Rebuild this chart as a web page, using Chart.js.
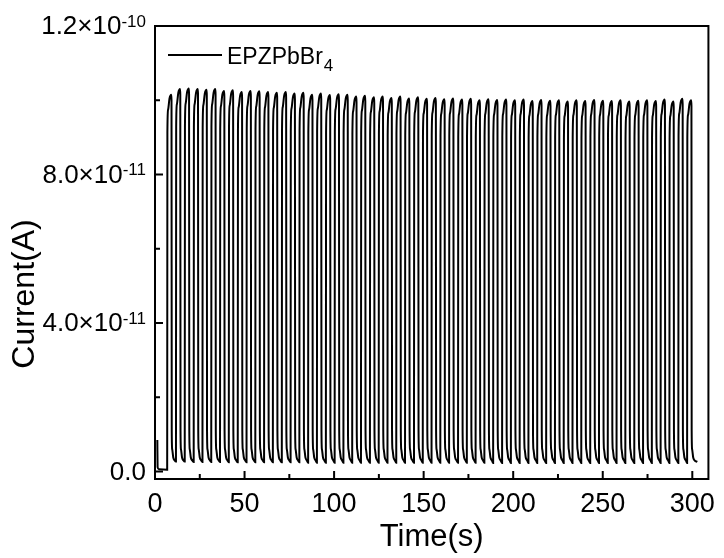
<!DOCTYPE html>
<html>
<head>
<meta charset="utf-8">
<script src="https://cdn.jsdelivr.net/npm/chart.js@4.4.1/dist/chart.umd.min.js"></script>
<style>
  body { margin: 0; background: #fff; }
  canvas { display: block; }
</style>
</head>
<body>
<canvas id="myChart" width="724" height="558"></canvas>
<script>
/* 측정 데이터 (전류 단위: 1e-11 A) */
// light switched on at these times (s)
const lightOn = [
  6.8, 11.7, 16.6, 21.6, 26.5, 31.4, 36.3, 41.2, 46.2, 51.1,
  56.0, 60.9, 65.8, 70.8, 75.7, 80.6, 85.5, 90.4, 95.4, 100.3,
  105.2, 110.1, 115.0, 120.0, 124.9, 129.8, 134.7, 139.6, 144.6, 149.5,
  154.4, 159.3, 164.2, 169.2, 174.1, 179.0, 183.9, 188.8, 193.8, 198.7,
  203.6, 208.5, 213.4, 218.4, 223.3, 228.2, 233.1, 238.0, 243.0, 247.9,
  252.8, 257.7, 262.6, 267.6, 272.5, 277.4, 282.3, 287.2, 292.2, 297.1
];
// photocurrent at the end of each light pulse
const peakCurrent = [
  10.15, 10.30, 10.32, 10.30, 10.28, 10.30, 10.25, 10.27, 10.22, 10.25,
  10.24, 10.22, 10.20, 10.22, 10.18, 10.20, 10.15, 10.18, 10.14, 10.16,
  10.15, 10.10, 10.12, 10.08, 10.10, 10.06, 10.10, 10.05, 10.08, 10.04,
  10.06, 10.03, 10.05, 10.02, 10.04, 10.00, 10.03, 10.01, 10.02, 10.00,
  10.02, 9.98, 10.01, 9.99, 10.00, 9.97, 10.00, 9.98, 10.01, 9.99,
  9.98, 10.00, 9.97, 9.99, 10.00, 9.98, 10.02, 9.97, 10.04, 10.00
];
// dark current right before each pulse
const darkCurrent = [
  0.05, 0.27, 0.27, 0.26, 0.26, 0.26, 0.26, 0.25, 0.25, 0.25,
  0.25, 0.25, 0.25, 0.25, 0.25, 0.25, 0.24, 0.24, 0.24, 0.24,
  0.24, 0.24, 0.24, 0.24, 0.24, 0.24, 0.24, 0.24, 0.24, 0.24,
  0.24, 0.24, 0.24, 0.24, 0.24, 0.24, 0.24, 0.23, 0.23, 0.23,
  0.23, 0.23, 0.23, 0.23, 0.23, 0.23, 0.23, 0.23, 0.23, 0.23,
  0.23, 0.23, 0.23, 0.23, 0.23, 0.23, 0.23, 0.23, 0.23, 0.23
];
// one cycle: rise while lit (fraction of the peak), decay after switch-off
const pulseOnTime = [0.12, 0.5, 1.3, 2.3, 2.42];
const pulseOnLevel = [0.9, 0.96, 0.99, 1.0, 0.985];
const pulseOffTime = [2.55, 2.8, 3.4, 4.2];
const pulseOffLevel = [1.1, 0.6, 0.38, 0.3];
// trace before the first pulse and after the last one
const leadTime = [1.3, 1.45, 2.2];
const leadCurrent = [0.85, 0.12, 0.06];
const tailTime = [302.8];
const tailCurrent = [0.26];

// axis ticks
const xTicks = [0, 50, 100, 150, 200, 250, 300];
const yTickValues = [0, 4e-11, 8e-11, 1.2e-10];
const yTickMantissa = ['0.0', '4.0', '8.0', '1.2'];
const yTickExponent = ['', '-11', '-11', '-10'];
const seriesName = 'EPZPbBr';
const seriesSub = '4';

const FONT = '"Liberation Sans", Arial, sans-serif';

/* 곡선 데이터 만들기 */
const points = [];
leadTime.forEach((t, i) => points.push({x: t, y: leadCurrent[i] * 1e-11}));
lightOn.forEach((t0, i) => {
  const p = peakCurrent[i];
  points.push({x: t0, y: darkCurrent[i] * 1e-11});
  pulseOnTime.forEach((dt, k) => points.push({x: t0 + dt, y: p * pulseOnLevel[k] * 1e-11}));
  pulseOffTime.forEach((dt, k) => points.push({x: t0 + dt, y: pulseOffLevel[k] * 1e-11}));
});
tailTime.forEach((t, i) => points.push({x: t, y: tailCurrent[i] * 1e-11}));

/* 프레임, 눈금, 라벨 직접 그리기 */
const framePlugin = {
  id: 'frame',
  afterDraw(chart) {
    const {ctx, chartArea: a, scales: {x, y}} = chart;
    ctx.save();
    ctx.strokeStyle = '#000';
    ctx.lineWidth = 2;
    ctx.strokeRect(a.left, a.top, a.right - a.left, a.bottom - a.top);

    ctx.beginPath();
    for (let v = 0; v <= 300; v += 25) {
      const px = x.getPixelForValue(v);
      const len = v % 50 === 0 ? 8 : 5;
      ctx.moveTo(px, a.bottom);
      ctx.lineTo(px, a.bottom - len);
    }
    for (let i = 0; i <= 6; i++) {
      const py = y.getPixelForValue(i * 2e-11);
      const len = i % 2 === 0 ? 8 : 5;
      ctx.moveTo(a.left, py);
      ctx.lineTo(a.left + len, py);
    }
    ctx.stroke();

    // y tick labels with exponent
    ctx.fillStyle = '#000';
    const rightEdge = a.left - 9;
    yTickValues.forEach((v, i) => {
      const py = y.getPixelForValue(v);
      ctx.font = '17px ' + FONT;
      const supW = ctx.measureText(yTickExponent[i]).width;
      ctx.textAlign = 'left';
      ctx.textBaseline = 'alphabetic';
      ctx.fillText(yTickExponent[i], rightEdge - supW, py + 0.5);
      const main = yTickExponent[i] ? yTickMantissa[i] + '\u00d710' : yTickMantissa[i];
      ctx.font = '26px ' + FONT;
      ctx.textAlign = 'right';
      ctx.textBaseline = 'middle';
      ctx.fillText(main, rightEdge - supW, py + 1);
    });

    // y title
    ctx.save();
    ctx.translate(25, 294);
    ctx.rotate(-Math.PI / 2);
    ctx.font = '32px ' + FONT;
    ctx.textAlign = 'center';
    ctx.textBaseline = 'middle';
    ctx.fillText('Current(A)', 0, 0);
    ctx.restore();

    // legend
    ctx.beginPath();
    ctx.moveTo(168, 55);
    ctx.lineTo(222, 55);
    ctx.lineWidth = 2;
    ctx.stroke();
    ctx.font = '23px ' + FONT;
    ctx.textAlign = 'left';
    ctx.textBaseline = 'alphabetic';
    ctx.fillText(seriesName, 227, 64);
    const w = ctx.measureText(seriesName).width;
    ctx.font = '17px ' + FONT;
    ctx.fillText(seriesSub, 227 + w + 1, 71);
    ctx.restore();
  }
};

const ctx = document.getElementById('myChart');
const config = {
  type: 'line',
  data: {
    datasets: [{
      label: seriesName + seriesSub,
      data: points,
      borderColor: '#000',
      borderWidth: 2,
      pointRadius: 0,
      cubicInterpolationMode: 'monotone',
      fill: false
    }]
  },
  options: {
    responsive: false,
    animation: false,
    layout: { padding: { left: 0, top: 26, right: 6, bottom: 0 } },
    plugins: { legend: { display: false }, tooltip: { enabled: false } },
    scales: {
      x: {
        type: 'linear',
        min: 0,
        max: 309,
        grid: { display: false, drawTicks: false },
        border: { display: false },
        afterBuildTicks: (scale) => { scale.ticks = xTicks.map(v => ({value: v})); },
        afterFit: (scale) => { scale.height = 79; },
        ticks: {
          color: '#000',
          padding: 9,
          maxRotation: 0,
          font: { family: FONT, size: 27 }
        },
        title: {
          display: true,
          text: 'Time(s)',
          color: '#000',
          padding: { top: 0, bottom: 2 },
          font: { family: FONT, size: 31 }
        }
      },
      y: {
        min: -2e-12,
        max: 1.2e-10,
        grid: { display: false, drawTicks: false },
        border: { display: false },
        ticks: { display: false },
        afterFit: (scale) => { scale.width = 155; }
      }
    }
  },
  plugins: [framePlugin]
};

const myChart = new Chart(ctx, config);
</script>
</body>
</html>
